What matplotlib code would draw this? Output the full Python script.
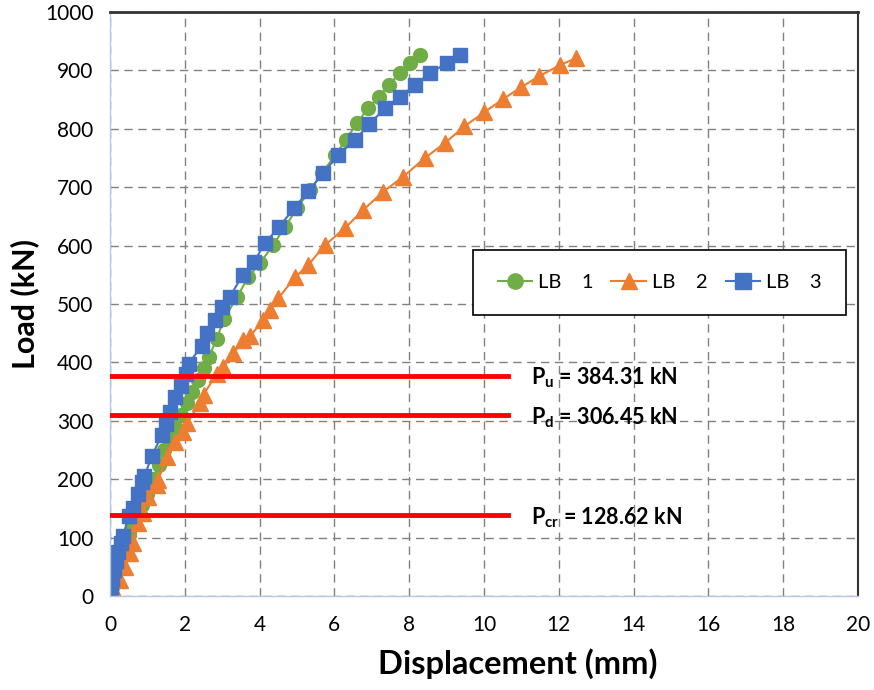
import matplotlib.pyplot as plt

plt.rcParams['font.family'] = ['Lato', 'DejaVu Sans']
plt.rcParams['mathtext.fontset'] = 'custom'
plt.rcParams['mathtext.bf'] = 'Lato:bold'
plt.rcParams['mathtext.rm'] = 'Lato'

# LB 1 (green circles)
x_lb1 = [0.0, 0.05, 0.1, 0.15, 0.22, 0.3, 0.4, 0.5, 0.6, 0.7, 0.85, 1.0, 1.15, 1.3,
         1.45, 1.6, 1.75, 1.9, 2.05, 2.2, 2.35, 2.5, 2.65, 2.85, 3.05, 3.4, 3.69, 4.01,
         4.36, 4.68, 5.0, 5.35, 5.67, 6.02, 6.31, 6.6, 6.9, 7.19, 7.46, 7.75, 8.02, 8.29]
y_lb1 = [0, 15, 30, 45, 60, 75, 90, 105, 120, 135, 155, 175, 200, 225,
         250, 270, 290, 310, 330, 350, 370, 390, 410, 440, 475, 512, 546, 570,
         601, 632, 664, 695, 724, 755, 781, 810, 835, 855, 875, 896, 913, 926]

# LB 2 (orange triangles)
x_lb2 = [0.0, 0.13, 0.27, 0.4, 0.53, 0.62, 0.76, 0.89, 1.02, 1.25, 1.29, 1.52, 1.74,
         1.96, 2.06, 2.4, 2.5, 2.86, 3.03, 3.3, 3.56, 3.75, 4.1, 4.28, 4.5, 4.95, 5.3,
         5.75, 6.28, 6.77, 7.3, 7.84, 8.42, 8.96, 9.47, 10.0, 10.51, 10.99, 11.47,
         12.03, 12.46]
y_lb2 = [0, 5, 27, 50, 73, 91, 125, 142, 170, 190, 199, 238, 264,
         281, 296, 330, 345, 381, 392, 416, 438, 445, 473, 490, 510, 546, 567,
         601, 630, 661, 692, 718, 750, 776, 804, 828, 851, 871, 890,
         909, 921]

# LB 3 (blue squares)
x_lb3 = [0.0, 0.02, 0.05, 0.1, 0.15, 0.2, 0.28, 0.35, 0.5, 0.62, 0.75, 0.85, 0.92,
         1.12, 1.38, 1.5, 1.6, 1.75, 1.9, 2.02, 2.1, 2.45, 2.6, 2.8, 3.0, 3.2, 3.55,
         3.85, 4.14, 4.52, 4.92, 5.3, 5.7, 6.1, 6.55, 6.93, 7.35, 7.75, 8.16, 8.56,
         9.0, 9.36]
y_lb3 = [0, 15, 30, 45, 60, 75, 90, 103, 137, 150, 175, 195, 205,
         240, 275, 295, 315, 340, 360, 380, 398, 428, 450, 473, 495, 512, 550,
         572, 604, 632, 664, 693, 724, 755, 781, 808, 835, 855, 875, 896,
         912, 926]

# limit loads (red lines) and their labels
limit_y = [377, 310, 138]
limit_txt = [r'$\mathbf{P_u}$ = 384.31 kN', r'$\mathbf{P_d}$ = 306.45 kN',
             r'$\mathbf{P_{cr}}$ = 128.62 kN']
limit_x_end = 10.65

fig = plt.figure(figsize=(8.74, 6.9), dpi=100)
ax = fig.add_axes([0.1259, 0.1362, 0.8558, 0.8464])

ax.plot(x_lb1, y_lb1, color='#70AD47', marker='o', markersize=10, lw=1.5, label='LB    1')
ax.plot(x_lb2, y_lb2, color='#ED7D31', marker='^', markersize=11, lw=1.5, label='LB    2')
ax.plot(x_lb3, y_lb3, color='#4472C4', marker='s', markersize=10.5, lw=1.5, label='LB    3')

for yv, txt in zip(limit_y, limit_txt):
    ax.plot([0, limit_x_end], [yv, yv], color='#FF0000', lw=3.5, zorder=5)
    ax.text(11.25, yv - 4, txt, fontsize=15.5, fontweight='bold', va='center', ha='left')

ax.set_xlim(0, 20)
ax.set_ylim(0, 1000)
ax.set_xticks(range(0, 21, 2))
ax.set_yticks(range(0, 1001, 100))
ax.tick_params(length=0, labelsize=15)
ax.tick_params(axis='y', pad=12)
ax.tick_params(axis='x', pad=14)
ax.grid(True, linestyle=(0, (6, 4)), color='#808080', lw=1)
ax.set_axisbelow(True)

for s in ['left', 'bottom']:
    ax.spines[s].set_color('#B4C7E7')
    ax.spines[s].set_linewidth(1)
ax.spines['top'].set_color('#333333')
ax.spines['top'].set_linewidth(2)
ax.spines['right'].set_color('#333333')
ax.spines['right'].set_linewidth(1.5)

ax.set_xlabel('Displacement (mm)', fontsize=23.5, fontweight='bold')
ax.xaxis.set_label_coords(0.545, -0.09)
ax.set_ylabel('Load (kN)', fontsize=22, fontweight='bold', labelpad=4)

leg = ax.legend(loc='center', bbox_to_anchor=(0.7346, 0.537),
                ncol=3, fontsize=14.5, fancybox=False, framealpha=1, edgecolor='black',
                handlelength=1.7, handletextpad=0.3, columnspacing=0.9, borderpad=1.2,
                markerscale=1.1)
leg.get_frame().set_linewidth(1.2)

fig.savefig('out.png', dpi=100)
